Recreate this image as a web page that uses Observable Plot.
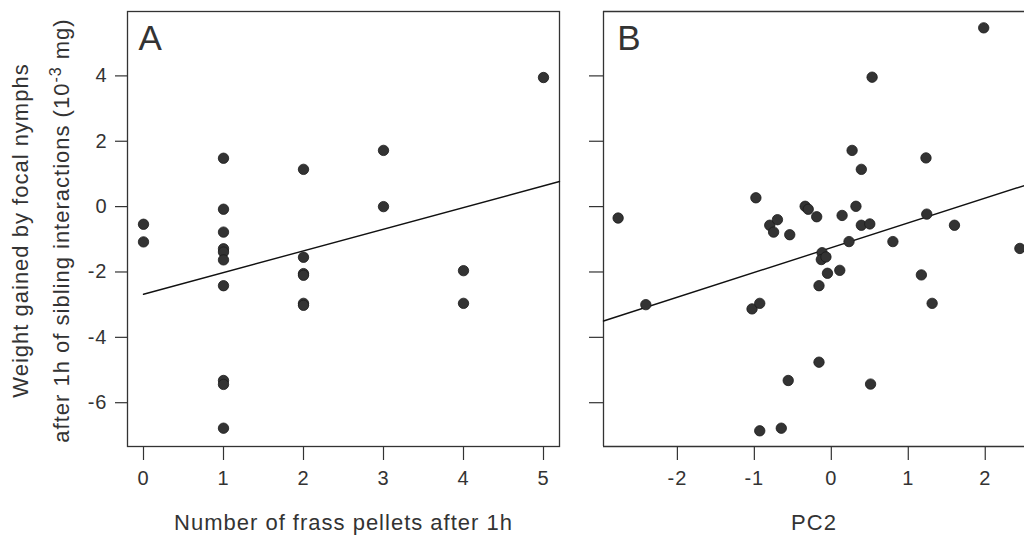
<!DOCTYPE html>
<html>
<head>
<meta charset="utf-8">
<script src="https://cdn.jsdelivr.net/npm/d3@7"></script>
<script src="https://cdn.jsdelivr.net/npm/@observablehq/plot@0.6"></script>
<style>
  html, body { margin: 0; padding: 0; background: #fff; overflow: hidden; }
  #chart { position: relative; width: 1024px; height: 539px; }
  #chart svg { position: absolute; top: 0; }
</style>
</head>
<body>
<div id="chart"></div>
<script>
// ---- Panel A data: frass pellets vs weight gained ----
const frass   = [0, 0, 1, 1, 1, 1, 1, 1, 1, 1, 1, 1, 2, 2, 2, 2, 2, 2, 3, 3, 4, 4, 5];
const weightA = [-0.54, -1.08, 1.48, -0.08, -0.78, -1.29, -1.39, -1.63, -2.42, -5.32, -5.44, -6.78,
                 1.14, -1.55, -2.05, -2.10, -2.96, -3.02, 1.72, 0.0, -1.96, -2.96, 3.95];
// ---- Panel B data: PC2 vs weight gained ----
const pc2     = [1.98, 0.53, 0.27, 0.39, 1.23,
                 -2.77, -2.41, -0.98, -1.03, -0.93, -0.80, -0.75, -0.70, -0.54, -0.56, -0.93, -0.65,
                 -0.34, -0.30, -0.19, -0.16, -0.16, -0.12, -0.13, -0.07, -0.05, 0.11, 0.14, 0.23,
                 0.32, 0.39, 0.50, 0.51, 0.80, 1.17, 1.24, 1.31, 1.60, 2.45];
const weightB = [5.47, 3.96, 1.72, 1.14, 1.49,
                 -0.35, -3.00, 0.27, -3.13, -2.96, -0.57, -0.78, -0.40, -0.86, -5.32, -6.86, -6.78,
                 0.01, -0.08, -0.31, -2.42, -4.76, -1.41, -1.62, -1.54, -2.04, -1.95, -0.27, -1.07,
                 0.01, -0.57, -0.53, -5.43, -1.07, -2.09, -0.23, -2.96, -0.57, -1.28];
// fitted regression lines: [intercept, slope]
const fitA = [-2.68, 0.663];
const fitB = [-1.256, 0.758];
const fitRangeA = [0, 5.2];
const fitRangeB = [-2.96, 2.51];
// ticks & labels
const xTicksA = [0, 1, 2, 3, 4, 5];
const xTicksB = [-2, -1, 0, 1, 2];
const yTicks  = [-6, -4, -2, 0, 2, 4];
const panelLabels = ["A", "B"];
const xTitleA = "Number of frass pellets after 1h";
const xTitleB = "PC2";
const yTitle1 = "Weight gained by focal nymphs";
const yTitle2Pre = "after 1h of sibling interactions (10";
const yTitle2Sup = "-3";
const yTitle2Post = " mg)";
// scale domains
const xDomainA = [-0.2, 5.2];
const xDomainB = [-2.96, 2.51];
const yDomain  = [-7.34, 5.97];

const ptsA = frass.map((x, i) => ({x, y: weightA[i]}));
const ptsB = pc2.map((x, i) => ({x, y: weightB[i]}));
const lineA = fitRangeA.map(x => ({x, y: fitA[0] + fitA[1] * x}));
const lineB = fitRangeB.map(x => ({x, y: fitB[0] + fitB[1] * x}));

const ink = "#333";
const baseStyle = {
  fontFamily: "'Liberation Sans', Arial, Helvetica, sans-serif",
  fontSize: "20px",
  color: ink,
  background: "transparent",
  letterSpacing: "1px"
};

const plotA = Plot.plot({
  width: 580, height: 539,
  marginLeft: 127, marginRight: 21, marginTop: 11, marginBottom: 93,
  x: {domain: xDomainA},
  y: {domain: yDomain},
  style: baseStyle,
  marks: [
    Plot.frame({stroke: ink, strokeWidth: 1.3}),
    Plot.axisX({ticks: xTicksA, tickSize: 14, tickPadding: 10, tickFormat: d => String(d), label: null, strokeWidth: 1.2, fontSize: 20}),
    Plot.axisY({ticks: yTicks, tickSize: 12, tickPadding: 8, tickFormat: d => String(d), label: null, strokeWidth: 1.2, fontSize: 20}),
    Plot.line(lineA, {x: "x", y: "y", stroke: "#111", strokeWidth: 1.4}),
    Plot.dot(ptsA, {x: "x", y: "y", r: 5.2, fill: ink, stroke: "#1a1a1a", strokeWidth: 0.8}),
    Plot.text([panelLabels[0]], {text: d => d, frameAnchor: "top-left", dx: 11, dy: 14, lineAnchor: "top", textAnchor: "start", fontSize: 35, fill: ink}),
    Plot.text([xTitleA], {text: d => d, frameAnchor: "bottom", dy: 68, lineAnchor: "top", textAnchor: "middle", fontSize: 22, fill: ink}),
    Plot.text([yTitle1], {text: d => d, frameAnchor: "left", rotate: -90, dx: -106.5, dy: 1.5, lineAnchor: "middle", textAnchor: "middle", fontSize: 22, fill: ink}),
    Plot.text([yTitle2Pre + yTitle2Sup + yTitle2Post], {text: d => d, frameAnchor: "left", rotate: -90, dx: -65.5, dy: 1.5, lineAnchor: "middle", textAnchor: "middle", fontSize: 22, fill: ink})
  ]
});

const plotB = Plot.plot({
  width: 444, height: 539,
  marginLeft: 23, marginRight: 0, marginTop: 11, marginBottom: 93,
  x: {domain: xDomainB},
  y: {domain: yDomain},
  style: baseStyle,
  marks: [
    Plot.ruleX([xDomainB[0]], {stroke: ink, strokeWidth: 1.3}),
    Plot.ruleY(yDomain, {stroke: ink, strokeWidth: 1.3}),
    Plot.axisX({ticks: xTicksB, tickSize: 14, tickPadding: 10, tickFormat: d => String(d), label: null, strokeWidth: 1.2, fontSize: 20}),
    Plot.axisY({ticks: yTicks, tickSize: 14, tickFormat: () => "", label: null, strokeWidth: 1.2}),
    Plot.line(lineB, {x: "x", y: "y", stroke: "#111", strokeWidth: 1.4}),
    Plot.dot(ptsB, {x: "x", y: "y", r: 5.2, fill: ink, stroke: "#1a1a1a", strokeWidth: 0.8}),
    Plot.text([panelLabels[1]], {text: d => d, frameAnchor: "top-left", dx: 13.8, dy: 14, lineAnchor: "top", textAnchor: "start", fontSize: 35, fill: ink}),
    Plot.text([xTitleB], {text: d => d, frameAnchor: "bottom", dy: 68, lineAnchor: "top", textAnchor: "middle", fontSize: 22, fill: ink})
  ]
});

// superscript in the y title
d3.select(plotA).selectAll("text").each(function() {
  if (this.textContent === yTitle2Pre + yTitle2Sup + yTitle2Post) {
    const t = d3.select(this);
    t.text(null);
    t.append("tspan").text(yTitle2Pre);
    t.append("tspan").attr("font-size", "16px").attr("dy", "-0.5em").text(yTitle2Sup);
    t.append("tspan").attr("dy", "0.36em").text(yTitle2Post);
  }
});

plotA.style.left = "0px";
plotB.style.left = "580px";
const chart = document.getElementById("chart");
chart.appendChild(plotA);
chart.appendChild(plotB);
</script>
</body>
</html>
